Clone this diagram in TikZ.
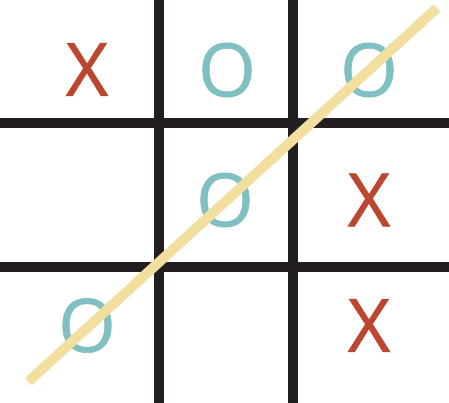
\documentclass[tikz,border=0pt]{standalone}
\usepackage{fontspec}
\newfontfamily\markfont[FakeBold=0.8]{Open Sans}
\definecolor{gridc}{HTML}{231F20}
\definecolor{xcol}{HTML}{BC4630}
\definecolor{ocol}{HTML}{80C0C3}
\definecolor{winc}{HTML}{F2DFA0}
\tikzset{
  gridline/.style={line width=10pt,draw=gridc},
  mark x/.style={text=xcol,inner sep=0pt,font=\markfont\fontsize{74}{74}\selectfont},
  mark o/.style={text=ocol,inner sep=0pt,font=\markfont\fontsize{74}{74}\selectfont},
  winline/.style={line width=10pt,draw=winc}
}
\begin{document}
\begin{tikzpicture}[x=1pt,y=-1pt]
\useasboundingbox[fill=white] (0,0) rectangle (449,403);
% grid
\draw[gridline] (159,0) -- (159,403);
\draw[gridline] (293,0) -- (293,403);
\draw[gridline] (0,123.5) -- (449,123.5);
\draw[gridline] (0,267) -- (449,267);
% marks
\node[mark x] (a1) at (87,69.5) {X};
\node[mark o] (a2) at (227,70) {O};
\node[mark o] (a3) at (369,70) {O};
\node[mark o] (b2) at (225,200) {O};
\node[mark x] (b3) at (369,200) {X};
\node[mark o] (c1) at (87,325.5) {O};
\node[mark x] (c3) at (369,325.5) {X};
% winning line
\coordinate (ws) at (28.5,381.5);
\coordinate (we) at (437,8);
\draw[winline] (ws) -- (we);
\end{tikzpicture}
\end{document}
